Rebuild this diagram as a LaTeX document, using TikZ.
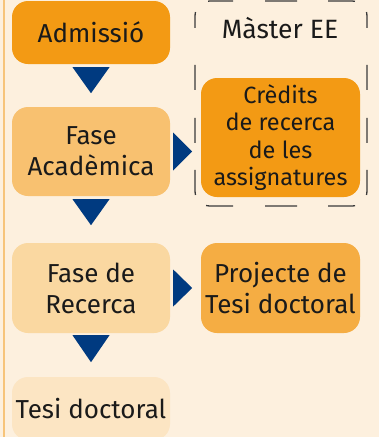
\documentclass[tikz,border=0pt]{standalone}
\usepackage{fontspec}
\setmainfont{Fira Sans}
\usetikzlibrary{calc}
\definecolor{pagebg}{HTML}{FDF0DE}
\definecolor{edgeline}{HTML}{F7C47A}
\definecolor{admcol}{HTML}{F39A14}
\definecolor{faccol}{HTML}{F8C170}
\definecolor{reccol}{HTML}{FAD8A1}
\definecolor{tesicol}{HTML}{FCE5C3}
\definecolor{projcol}{HTML}{F5AD43}
\definecolor{arrowblue}{HTML}{003A80}
\definecolor{dashgray}{HTML}{3A3A3A}
\definecolor{textcol}{HTML}{1A1A1A}

\begin{document}
\begin{tikzpicture}[x=1pt,y=-1pt,
  every node/.style={font=\fontsize{26}{31}\selectfont,text=textcol,align=center,inner sep=0pt},
  phase/.style={rounded corners=16pt,minimum width=158pt},
  side/.style={rounded corners=16pt,minimum width=159pt},
  frame/.style={draw=dashgray,line width=1.3pt,rounded corners=15pt,
    dash pattern=on 16pt off 31pt on 27pt off 16.5pt on 16pt off 37pt on 25pt off 28pt on 25pt off 27pt
      on 25pt off 16.5pt on 27pt off 31pt on 32pt off 32pt on 27pt off 15.6pt on 25pt off 27pt
      on 25pt off 28pt on 25pt off 37pt on 16pt off 17.6pt on 25pt off 32pt on 16pt off 0pt}]
  \fill[pagebg] (0,0) rectangle (379,437);
  \useasboundingbox (0,0) rectangle (379,437);
  \draw[edgeline,line width=2pt] (4,0) -- (4,437);
  % left column
  \node[phase,fill=admcol,minimum height=63pt](adm) at(91,32.5){Admissió};
  \node[phase,fill=faccol,minimum height=89pt](fac) at(91,151.5){Fase\\Acadèmica};
  \node[phase,fill=reccol,minimum height=90pt](rec) at(91,288){Fase de\\Recerca};
  \node[phase,fill=tesicol,minimum height=63pt](tesi) at(91,408.5){Tesi doctoral};
  % right column
  \node[minimum width=172pt,minimum height=205pt,outer sep=0pt](master) at(281,103.5){};
  \draw[frame](master.north)--(master.north east)--(master.south east)--(master.south west)--(master.north west)--(master.north);
  \node[font=\fontsize{26.5}{31}\selectfont](mtitle) at(280,28){Màster EE};
  \node[side,fill=admcol,minimum height=119pt,font=\fontsize{23.5}{27.5}\selectfont](cred) at(280.5,137.5){Crèdits\\de recerca\\de les\\assignatures};
  \node[side,fill=projcol,minimum height=90pt](proj) at(280.5,288){Projecte de\\Tesi doctoral};
  % triangles
  \fill[arrowblue]($(adm.south)+(-18.5,3)$)--++(37,0)--++(-18.5,26)--cycle;
  \fill[arrowblue]($(fac.south)+(-18.5,3)$)--++(37,0)--++(-18.5,26)--cycle;
  \fill[arrowblue]($(rec.south)+(-18.5,2)$)--++(37,0)--++(-18.5,27)--cycle;
  \fill[arrowblue]($(fac.east)+(3,-19)$)--++(0,38)--++(19,-19)--cycle;
  \fill[arrowblue]($(rec.east)+(3,-18.5)$)--++(0,37)--++(19,-18.5)--cycle;
\end{tikzpicture}
\end{document}
